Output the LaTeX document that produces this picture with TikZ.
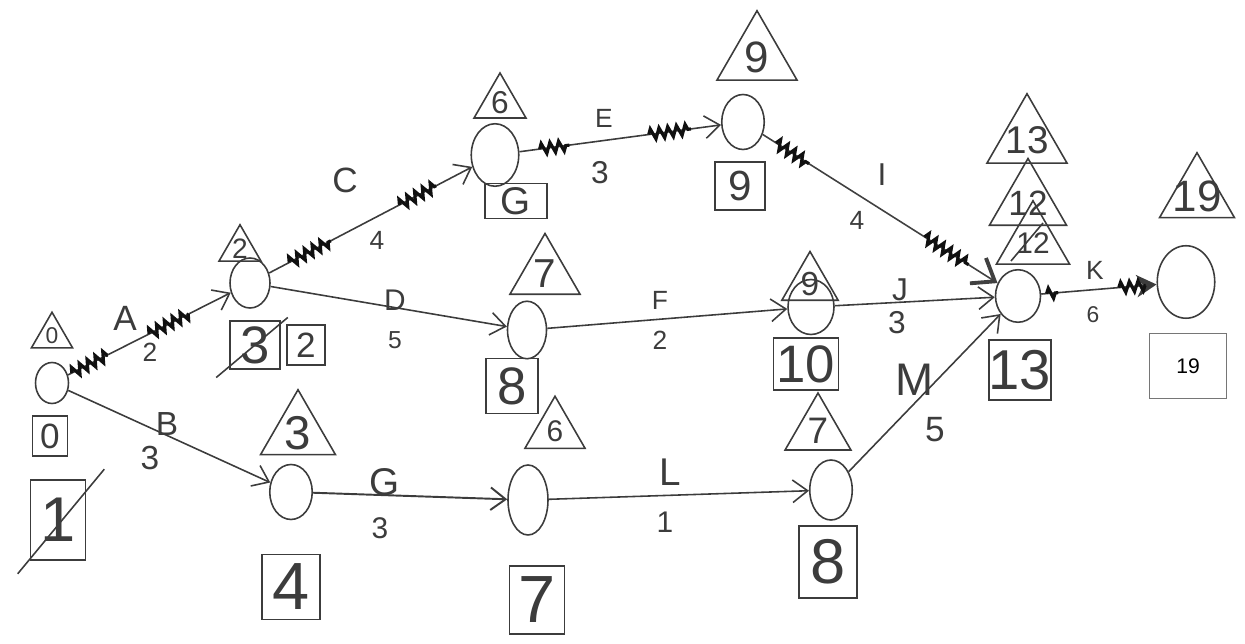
\documentclass[tikz,border=0pt]{standalone}
\usepackage{fontspec}
\setsansfont{Liberation Sans}
\usepackage{tikz}
\usetikzlibrary{positioning,arrows.meta,shapes.geometric,decorations.pathmorphing,calc}
\definecolor{cInk}{HTML}{3C3C3C}
\definecolor{cCrit}{HTML}{101010}
\newcommand{\hand}[1]{\fontsize{#1}{#1}\selectfont}

\begin{document}
\begin{tikzpicture}[
  x=0.02cm, y=-0.02cm,
  font=\sffamily,
  >={Straight Barb[length=3mm,width=4.5mm]},
  event/.style  ={ellipse,draw=cInk,line width=0.9pt,inner sep=0pt},
  early/.style  ={regular polygon,regular polygon sides=3,draw=cInk,line width=0.9pt,inner sep=0pt,minimum size=#1},
  early/.default=1.4cm,
  trinum/.style ={font=\sffamily\hand{#1},text=cInk,inner sep=0pt},
  late/.style   ={rectangle,draw=cInk,line width=0.9pt,inner sep=0pt,text=cInk},
  act/.style    ={->,cInk,line width=0.9pt},
  heavy/.style  ={-{Straight Barb[length=4mm,width=6mm,line width=2.2pt]}},
  squig/.style  ={decorate,decoration={zigzag,segment length=5pt,amplitude=3pt},line width=1.8pt,cCrit},
  actlab/.style ={text=cInk,inner sep=1pt},
  strike/.style ={cInk,line width=0.9pt},
]
\useasboundingbox (0,0) rectangle (1245,644);

% =====================================================================
% EVENTS
% =====================================================================
\node[event,minimum width=0.66cm,minimum height=0.82cm] (e1)  at (52,383)   {};
\node[event,minimum width=0.8cm, minimum height=1cm]    (e2)  at (250,283)  {};
\node[event,minimum width=0.95cm,minimum height=1.25cm] (e3)  at (495,155)  {};
\node[event,minimum width=0.85cm,minimum height=1.1cm]  (e4)  at (743,122)  {};
\node[event,minimum width=0.78cm,minimum height=1.15cm] (e5)  at (527,330)  {};
\node[event,minimum width=0.92cm,minimum height=1.1cm]  (e6)  at (811,307)  {};
\node[event,minimum width=0.9cm, minimum height=1.05cm] (e7)  at (1018,296) {};
\node[event,minimum width=1.15cm,minimum height=1.45cm] (e8)  at (1186,282) {};
\node[event,minimum width=0.85cm,minimum height=1.1cm]  (e9)  at (291,492)  {};
\node[event,minimum width=0.8cm, minimum height=1.4cm]  (e10) at (528,500)  {};
\node[event,minimum width=0.85cm,minimum height=1.2cm]  (e11) at (831,490)  {};

% earliest times (triangles)
\node[early=0.95cm,label={[trinum=13]center:0}]  (es1)  at (52,336)   {};
\node[early=0.97cm,label={[trinum=16]center:2}]  (es2)  at (240,249)  {};
\node[early=1.2cm, label={[trinum=18]center:6}]  (es3)  at (500,103)  {};
\node[early=1.85cm,label={[trinum=25]center:9}]  (es4)  at (757,57)   {};
\node[early=1.62cm,label={[trinum=23]center:7}]  (es5)  at (545,274)  {};
\node[early=1.3cm, label={[trinum=19]center:9}]  (es6)  at (810,284)  {};
\node[early=1.85cm,label={[trinum=22]center:13}] (es7a) at (1027,140) {};
\node[early=1.78cm,label={[trinum=20]center:12}] (es7b) at (1028,203) {};
\node[early=1.69cm,label={[trinum=17]center:12}] (es7c) at (1033,243) {};
\node[early=1.73cm,label={[trinum=25]center:19}] (es8)  at (1197,196) {};
\node[early=1.73cm,label={[trinum=27]center:3}]  (es9)  at (298,433)  {};
\node[early=1.39cm,label={[trinum=17]center:6}]  (es10) at (555,431)  {};
\node[early=1.52cm,label={[trinum=21]center:7}]  (es11) at (818,431)  {};

% latest times (squares)
\node[late,minimum width=0.7cm, minimum height=0.8cm, font=\sffamily\hand{20}] (lf1)  at (50,436)   {0};
\node[late,minimum width=1.1cm, minimum height=1.6cm, font=\sffamily\hand{36}] (lf1x) at (58,520)   {1};
\node[late,minimum width=1cm,   minimum height=0.95cm,font=\sffamily\hand{30}] (lf2x) at (255,345)  {3};
\node[late,minimum width=0.75cm,minimum height=0.8cm, font=\sffamily\hand{20}] (lf2)  at (306,345)  {2};
\node[late,minimum width=1.25cm,minimum height=0.7cm, font=\sffamily\hand{22}] (lf3)  at (516,201)  {G};
\node[late,minimum width=1cm,   minimum height=0.95cm,font=\sffamily\hand{24}] (lf4)  at (740,186)  {9};
\node[late,minimum width=1.05cm,minimum height=1.1cm, font=\sffamily\hand{30}] (lf5)  at (512,386)  {8};
\node[late,minimum width=1.3cm, minimum height=1.05cm,font=\sffamily\hand{30}] (lf6)  at (806,364)  {10};
\node[late,minimum width=1cm,   minimum height=1.2cm, font=\sffamily\hand{32}] (lf7)  at (1020,370) {13};
\node[late,minimum width=1.55cm,minimum height=1.3cm, font=\sffamily\hand{12},draw=cInk!70,line width=0.6pt,text=black] (lf8) at (1188,366) {19};
\node[late,minimum width=1.15cm,minimum height=1.3cm, font=\sffamily\hand{38}] (lf9)  at (291,587)  {4};
\node[late,minimum width=1.1cm, minimum height=1.35cm,font=\sffamily\hand{38}] (lf10) at (537,600)  {7};
\node[late,minimum width=1.15cm,minimum height=1.45cm,font=\sffamily\hand{36}] (lf11) at (828,562)  {8};

% struck-out values
\draw[strike] ($(lf1x.south west)+(-12,13)$) -- ($(lf1x.north east)+(18,-10)$);
\draw[strike] ($(lf2x.south west)+(-13,8)$) -- ($(lf2x.north east)+(7,-3)$);
\draw[strike] ($(es7c.center)+(-22,18)$) -- ($(es7c.center)+(10,-20)$);

% =====================================================================
% ACTIVITIES
% =====================================================================
\draw[act] (e1) -- (e2);
\draw[act] (e1) -- (e9);
\draw[act] (e2) -- (e3);
\draw[act] (e2) -- (e5);
\draw[act] (e3) -- (e4);
\draw[act] (e5) -- (e6);
\draw[act,heavy,cCrit!80] (e4) -- (e7);
\draw[act] (e6) -- (e7);
\draw[act,-{Stealth[length=4mm,width=4.5mm]}] (e7) -- (e8);
\draw[act,line width=1.1pt] (e9) -- (e10);
\draw[act] (e10) -- (e11);
\draw[act] (e11) -- (e7);

% critical path marks
\draw[squig] ($(e1)!0.10!(e2)$) -- ($(e1)!0.28!(e2)$);
\draw[squig] ($(e1)!0.49!(e2)$) -- ($(e1)!0.69!(e2)$);
\draw[squig] ($(e2)!0.16!(e3)$) -- ($(e2)!0.33!(e3)$);
\draw[squig] ($(e2)!0.61!(e3)$) -- ($(e2)!0.76!(e3)$);
\draw[squig] ($(e3)!0.18!(e4)$) -- ($(e3)!0.30!(e4)$);
\draw[squig] ($(e3)!0.62!(e4)$) -- ($(e3)!0.79!(e4)$);
\draw[squig] ($(e4)!0.12!(e7)$) -- ($(e4)!0.24!(e7)$);
\draw[squig] ($(e4)!0.66!(e7)$) -- ($(e4)!0.82!(e7)$);
\draw[squig] ($(e7)!0.17!(e8)$) -- ($(e7)!0.24!(e8)$);
\draw[squig] ($(e7)!0.60!(e8)$) -- ($(e7)!0.76!(e8)$);

% activity names and durations
\node[actlab,font=\sffamily\hand{20}] (labA) at (125,318)  {A};
\node[actlab,font=\sffamily\hand{15}] (durA) at (150,352)  {2};
\node[actlab,font=\sffamily\hand{19}] (labB) at (167,424)  {B};
\node[actlab,font=\sffamily\hand{19}] (durB) at (150,458)  {3};
\node[actlab,font=\sffamily\hand{20}] (labC) at (345,180)  {C};
\node[actlab,font=\sffamily\hand{15}] (durC) at (377,240)  {4};
\node[actlab,font=\sffamily\hand{17}] (labD) at (395,300)  {D};
\node[actlab,font=\sffamily\hand{14}] (durD) at (395,340)  {5};
\node[actlab,font=\sffamily\hand{15}] (labE) at (604,118)  {E};
\node[actlab,font=\sffamily\hand{18}] (durE) at (600,173)  {3};
\node[actlab,font=\sffamily\hand{15}] (labF) at (660,300)  {F};
\node[actlab,font=\sffamily\hand{15}] (durF) at (660,340)  {2};
\node[actlab,font=\sffamily\hand{18}] (labI) at (882,175)  {I};
\node[actlab,font=\sffamily\hand{15}] (durI) at (857,220)  {4};
\node[actlab,font=\sffamily\hand{18}] (labJ) at (900,290)  {J};
\node[actlab,font=\sffamily\hand{18}] (durJ) at (897,323)  {3};
\node[actlab,font=\sffamily\hand{15}] (labK) at (1095,270) {K};
\node[actlab,font=\sffamily\hand{13}] (durK) at (1093,315) {6};
\node[actlab,font=\sffamily\hand{22}] (labG) at (385,482)  {G};
\node[actlab,font=\sffamily\hand{17}] (durG) at (380,528)  {3};
\node[actlab,font=\sffamily\hand{22}] (labL) at (670,472)  {L};
\node[actlab,font=\sffamily\hand{17}] (durL) at (665,522)  {1};
\node[actlab,font=\sffamily\hand{26}] (labM) at (915,380)  {M};
\node[actlab,font=\sffamily\hand{20}] (durM) at (935,430)  {5};

\end{tikzpicture}
\end{document}
